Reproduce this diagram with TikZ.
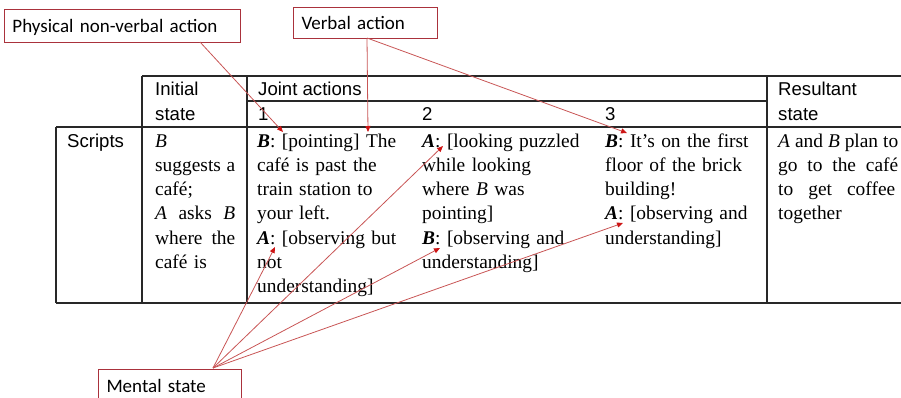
\documentclass[tikz,border=0pt]{standalone}
\usepackage{fontspec}
\setmainfont{Liberation Serif}
\newfontfamily\hdrfont{Liberation Sans}
\newfontfamily\callfont{Carlito}
\usetikzlibrary{arrows.meta}
\definecolor{boxred}{RGB}{170,50,60}
\definecolor{leadred}{RGB}{200,85,85}
\definecolor{tipred}{RGB}{205,20,20}
\definecolor{rulegray}{RGB}{40,40,40}
\newcommand{\bitalic}[1]{\textbf{\textit{#1}}}
\newcommand{\justline}[2]{\leavevmode\hbox to #1{\spaceskip=0.25em plus 1fil minus 0.05em\relax #2}}
\begin{document}
\begin{tikzpicture}[x=1pt,y=-1pt,
 callout/.style={draw=boxred, line width=1pt, anchor=north west, inner xsep=8pt, inner ysep=0pt, text height=15pt, text depth=3pt, align=left, font=\callfont\fontsize{19}{22}\selectfont},
 rule/.style={draw=rulegray, line width=1.3pt},
 hdr/.style={anchor=base west, inner sep=0pt, font=\hdrfont\fontsize{18.6}{25}\selectfont},
 cell/.style={anchor=base west, inner sep=0pt, align=left, font=\fontsize{19.4}{24.3}\selectfont},
 lead/.style={draw=leadred, line width=0.8pt, -{Triangle[length=6pt,width=5pt,color=tipred]}},
]
\useasboundingbox (0,0) rectangle (901,397);
\clip (0,0) rectangle (901,397);

% table rules
\draw[rule] (142,76) -- (901,76);
\draw[rule] (247,101) -- (767,101);
\draw[rule] (56,127) -- (901,127);
\draw[rule] (56,303) -- (901,303);
\draw[rule] (56,127) -- (56,303);
\draw[rule] (142,76) -- (142,303);
\draw[rule] (247,76) -- (247,303);
\draw[rule] (767,76) -- (767,303);

% headers
\node[hdr] (hInit1) at (155,95) {Initial};
\node[hdr] (hInit2) at (155,120) {state};
\node[hdr] (hJoint) at (258,95) {Joint actions};
\node[hdr] (h1) at (258,120) {1};
\node[hdr] (h2) at (422,120) {2};
\node[hdr] (h3) at (605,120) {3};
\node[hdr] (hRes1) at (778,95) {Resultant};
\node[hdr] (hRes2) at (778,120) {state};
\node[hdr] (hScripts) at (67,147) {Scripts};

% cells
\node[cell, text width=82pt] (cInit) at (155,147) {\textit{B}\\ \justline{80pt}{suggests a}\\ café;\\ \justline{80pt}{\textit{A} asks \textit{B}}\\ \justline{80pt}{where the}\\ café is};
\node[cell, text width=160pt] (c1) at (257,147) {\bitalic{B}: [pointing] The\\ café is past the\\ train station to\\ your left.\\ \bitalic{A}: [observing but\\ not\\ understanding]};
\node[cell, text width=170pt] (c2) at (422,147) {\bitalic{A}: [looking puzzled\\ while looking\\ where \textit{B} was\\ pointing]\\ \bitalic{B}: [observing and\\ understanding]};
\node[cell, text width=160pt] (c3) at (605,147) {\bitalic{B}: It’s on the first\\ floor of the brick\\ building!\\ \bitalic{A}: [observing and\\ understanding]};
\node[cell, text width=122pt] (cRes) at (778,147) {\justline{120pt}{\textit{A} and \textit{B} plan to}\\ \justline{120pt}{go to the café}\\ \justline{117pt}{to get coffee}\\ together};

% callouts
\node[callout, minimum width=236pt, minimum height=33pt, text width=220pt] (phys) at (4,9) {Physical non-verbal action};
\node[callout, minimum width=144pt, minimum height=31pt, text width=128pt] (verb) at (293,7) {Verbal action};
\node[callout, minimum width=143pt, minimum height=34pt, text width=127pt] (ment) at (98,369) {Mental state};

% leader points
\coordinate (p0) at (200,42);
\coordinate (v0) at (367,38);
\coordinate (m0) at (213,368);
\coordinate (tB1) at (283,132);
\coordinate (tThe) at (368,132);
\coordinate (tB3) at (627,133);
\coordinate (tA1) at (275,247);
\coordinate (tA2) at (443,146);
\coordinate (tB2) at (440,248);
\coordinate (tA3) at (623,223);

\draw[lead] (p0) -- (tB1);
\draw[lead] (v0) -- (tThe);
\draw[lead] (v0) -- (tB3);
\draw[lead] (m0) -- (tA1);
\draw[lead] (m0) -- (tA2);
\draw[lead] (m0) -- (tB2);
\draw[lead] (m0) -- (tA3);
\end{tikzpicture}
\end{document}
